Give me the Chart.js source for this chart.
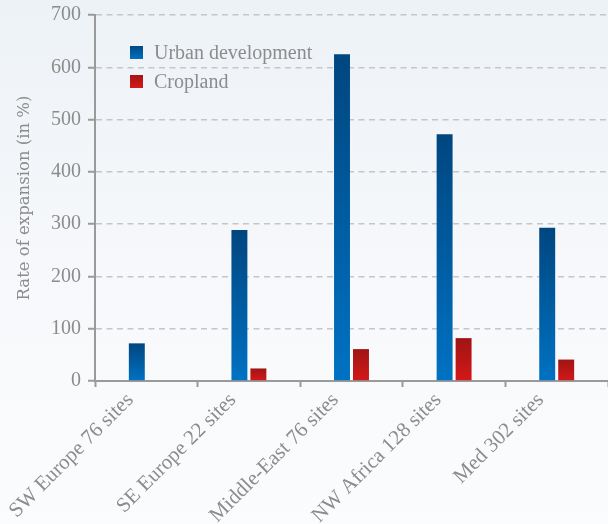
<!DOCTYPE html>
<html>
<head>
<meta charset="utf-8">
<script src="https://cdn.jsdelivr.net/npm/chart.js@4.4.1/dist/chart.umd.min.js"></script>
<style>
  html, body { margin: 0; padding: 0; background: #f4f7fa; }
  #wrap { width: 608px; height: 524px; position: relative; }
</style>
</head>
<body>
<div id="wrap"><canvas id="c" width="608" height="524"></canvas></div>
<script>
// ---- data ----
const categories = ['SW Europe 76 sites', 'SE Europe 22 sites', 'Middle-East 76 sites', 'NW Africa 128 sites', 'Med 302 sites'];
const urbanDevelopment = [72, 289, 625, 472, 293];
const cropland = [null, 24, 61, 82, 41];
const seriesNames = ['Urban development', 'Cropland'];
const yTicks = [0, 100, 200, 300, 400, 500, 600, 700];
const yTitle = 'Rate of expansion (in %)';

const FONT = "'Liberation Serif', 'DejaVu Serif', serif";
const GRAY = '#8c8c8c';

function barGradient(ctx, top, bottom) {
  const chart = ctx.chart;
  const area = chart.chartArea;
  if (!area) return bottom;
  const v = ctx.raw;
  if (v === null || v === undefined) return bottom;
  const ys = chart.scales.y;
  const y0 = ys.getPixelForValue(0);
  const y1 = ys.getPixelForValue(v);
  const g = chart.ctx.createLinearGradient(0, y1, 0, y0);
  g.addColorStop(0, top);
  g.addColorStop(1, bottom);
  return g;
}

const bgPlugin = {
  id: 'bg',
  beforeDraw(chart) {
    const c = chart.ctx;
    const g = c.createLinearGradient(0, 0, 0, chart.height);
    g.addColorStop(0, '#edf2f6');
    g.addColorStop(0.5, '#f6f8fb');
    g.addColorStop(1, '#fbfcfd');
    c.save();
    c.fillStyle = g;
    c.fillRect(0, 0, chart.width, chart.height);
    c.restore();
  }
};

const legendPlugin = {
  id: 'innerLegend',
  afterDraw(chart) {
    const c = chart.ctx;
    c.save();
    c.font = '20px ' + FONT;
    c.textBaseline = 'alphabetic';
    c.textAlign = 'left';
    const swatches = [['#004a82', '#0070c0'], ['#a51414', '#d41a1a']];
    chart.data.datasets.forEach((ds, i) => {
      const x = 130, y = 46 + i * 29;
      const g = c.createLinearGradient(0, y, 0, y + 13);
      g.addColorStop(0, swatches[i][0]);
      g.addColorStop(1, swatches[i][1]);
      c.fillStyle = g;
      c.fillRect(x, y, 13, 13);
      c.fillStyle = GRAY;
      c.fillText(ds.label, 154, y + 13);
    });
    c.restore();
  }
};

new Chart(document.getElementById('c'), {
  type: 'bar',
  data: {
    labels: categories,
    datasets: [
      {
        label: seriesNames[0],
        data: urbanDevelopment,
        backgroundColor: (ctx) => barGradient(ctx, '#00467f', '#0072c3'),
        categoryPercentage: 0.37,
        barPercentage: 0.84
      },
      {
        label: seriesNames[1],
        data: cropland,
        backgroundColor: (ctx) => barGradient(ctx, '#a01414', '#d41818'),
        categoryPercentage: 0.37,
        barPercentage: 0.84
      }
    ]
  },
  options: {
    responsive: false,
    animation: false,
    devicePixelRatio: 1,
    layout: { padding: { top: 15, right: 0, left: 0, bottom: 0 } },
    plugins: {
      legend: { display: false },
      tooltip: { enabled: false }
    },
    scales: {
      x: {
        offset: true,
        grid: {
          display: true,
          drawOnChartArea: false,
          drawTicks: true,
          tickLength: 6,
          tickColor: '#9a9a9a',
          tickWidth: 2,
          offset: true
        },
        border: { display: true, color: '#9a9a9a', width: 2 },
        ticks: {
          color: GRAY,
          font: { family: FONT, size: 21 },
          maxRotation: 45,
          minRotation: 45,
          autoSkip: false,
          padding: 1,
          labelOffset: -16
        },
        afterFit(scale) { scale.height = 143; scale.paddingLeft = 0; scale.paddingRight = 0; }
      },
      y: {
        min: 0,
        max: 700,
        afterBuildTicks(scale) { scale.ticks = yTicks.map(v => ({ value: v })); },
        grid: {
          color: '#c6c6c6',
          lineWidth: 1.5,
          drawTicks: true,
          tickLength: 7,
          tickColor: '#9a9a9a',
          tickWidth: 2,
          tickBorderDash: []
        },
        border: { display: true, color: '#9a9a9a', width: 2, dash: [6, 4.5] },
        ticks: {
          color: GRAY,
          font: { family: FONT, size: 20 },
          padding: 7
        },
        title: {
          display: true,
          text: yTitle,
          color: GRAY,
          font: { family: "'DejaVu Serif', serif", size: 16.5, weight: 'normal' },
          padding: { top: 15, bottom: 0 }
        },
        afterFit(scale) { scale.width = 95; scale.paddingTop = 0; scale.paddingBottom = 0; }
      }
    }
  },
  plugins: [bgPlugin, legendPlugin]
});
</script>
</body>
</html>
